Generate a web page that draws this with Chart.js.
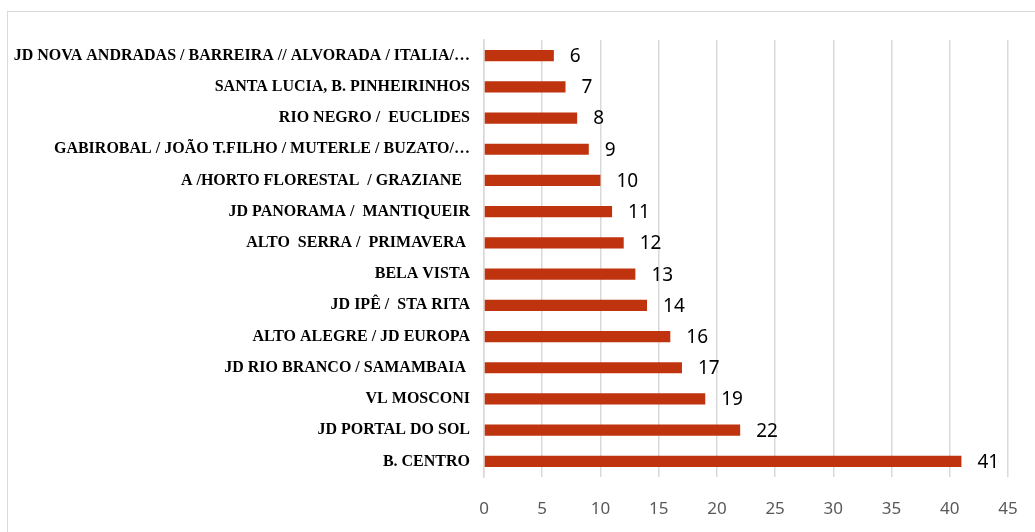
<!DOCTYPE html>
<html lang="pt">
<head>
    <meta charset="UTF-8">
    <title>Bairros</title>
    <style>
        html, body { margin: 0; padding: 0; background: #fff; overflow: hidden; }
        #wrap { position: relative; width: 1035px; height: 532px; }
        #frame { position: absolute; left: 7px; top: 11px; width: 1040px; height: 540px; border: 1.5px solid #d9d9d9; box-sizing: border-box; }
        canvas { position: absolute; left: 0; top: 0; }
    </style>
</head>
<body>
    <div id="wrap">
        <div id="frame"></div>
        <canvas id="chart" width="1035" height="532"></canvas>
    </div>
    <script src="https://cdn.jsdelivr.net/npm/chart.js"></script>
    <script>
        // top to bottom, as in the picture
        const bairros = [
            'JD NOVA ANDRADAS / BARREIRA // ALVORADA / ITALIA/…',
            'SANTA LUCIA, B. PINHEIRINHOS',
            'RIO NEGRO /  EUCLIDES',
            'GABIROBAL / JOÃO T.FILHO / MUTERLE / BUZATO/…',
            'A /HORTO FLORESTAL  / GRAZIANE  ',
            'JD PANORAMA /  MANTIQUEIR',
            'ALTO  SERRA /  PRIMAVERA ',
            'BELA VISTA',
            'JD IPÊ /  STA RITA',
            'ALTO ALEGRE / JD EUROPA',
            'JD RIO BRANCO / SAMAMBAIA ',
            'VL MOSCONI',
            'JD PORTAL DO SOL',
            'B. CENTRO'
        ];
        const totais = [6, 7, 8, 9, 10, 11, 12, 13, 14, 16, 17, 19, 22, 41];
        const xMin = 0, xMax = 45, xStep = 5;

        const valueLabels = {
            id: 'valueLabels',
            afterDatasetsDraw(chart) {
                const ctx = chart.ctx;
                const meta = chart.getDatasetMeta(0);
                ctx.save();
                ctx.font = '19px "Noto Sans", sans-serif';
                ctx.fillStyle = '#000';
                ctx.textAlign = 'left';
                ctx.textBaseline = 'middle';
                meta.data.forEach((bar, i) => {
                    ctx.fillText(String(totais[i]), bar.x + 16, bar.y + 1);
                });
                ctx.restore();
            }
        };

        new Chart(document.getElementById('chart'), {
            type: 'bar',
            data: {
                labels: bairros,
                datasets: [{
                    data: totais,
                    backgroundColor: '#c0330f',
                    borderWidth: 0,
                    barPercentage: 0.36,
                    categoryPercentage: 1
                }]
            },
            options: {
                indexAxis: 'y',
                responsive: false,
                animation: false,
                layout: { padding: { top: 40, right: 27, left: 0, bottom: 0 } },
                plugins: { legend: { display: false }, tooltip: { enabled: false } },
                scales: {
                    x: {
                        min: xMin,
                        max: xMax,
                        ticks: {
                            stepSize: xStep,
                            color: '#595959',
                            padding: 22,
                            font: { family: '"Noto Sans", sans-serif', size: 17 }
                        },
                        grid: { color: '#d9d9d9', lineWidth: 1.5, drawTicks: false },
                        border: { display: false },
                        afterFit(scale) {
                            scale.height = 55;
                            scale.paddingLeft = 0;
                            scale.paddingRight = 0;
                        }
                    },
                    y: {
                        ticks: {
                            color: '#000',
                            padding: 14,
                            autoSkip: false,
                            font: { family: '"Liberation Serif", serif', size: 16, weight: 'bold' }
                        },
                        grid: { display: false, drawTicks: false },
                        border: { color: '#d9d9d9', width: 1.5 },
                        afterFit(scale) {
                            scale.width = 484;
                            scale.paddingTop = 0;
                            scale.paddingBottom = 0;
                        }
                    }
                }
            },
            plugins: [valueLabels]
        });
    </script>
</body>
</html>
